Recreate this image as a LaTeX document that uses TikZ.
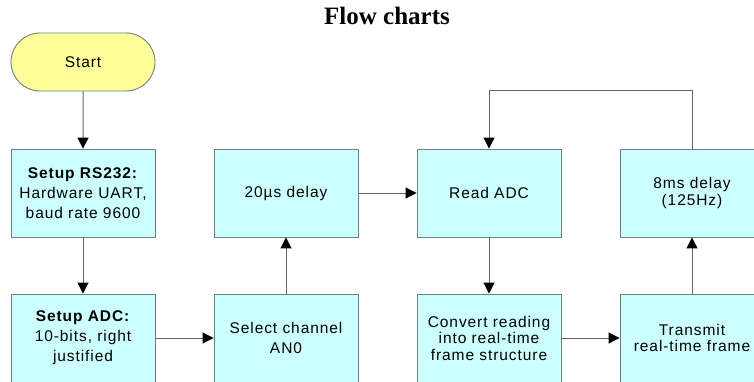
\documentclass[tikz,border=0pt]{standalone}
\usepackage{fontspec}
\setmainfont{Liberation Sans}
\newfontfamily\boxfont[LetterSpace=6]{Liberation Sans}
\newfontfamily\titlefont{Liberation Serif}
\usetikzlibrary{arrows.meta,shapes.misc}
\definecolor{boxfill}{HTML}{CCFFFF}
\definecolor{startfill}{HTML}{FFFF99}
\definecolor{boxline}{HTML}{6E7F7F}
\definecolor{conn}{HTML}{666666}
\begin{document}
\begin{tikzpicture}[x=1pt,y=-1pt,
  procbox/.style={draw=boxline,fill=boxfill,line width=0.9pt,minimum width=144pt,minimum height=88pt,inner sep=0pt,align=center,font=\boxfont\fontsize{15.5}{20}\selectfont},
  tight/.style={font=\boxfont\fontsize{15.5}{16.5}\selectfont},
  startbox/.style={draw=boxline,fill=startfill,line width=0.9pt,rounded rectangle,minimum width=144pt,minimum height=58pt,inner sep=0pt,font=\boxfont\fontsize{15.5}{20}\selectfont},
  conn/.style={draw=conn,line width=1pt,-{Triangle[length=11pt,width=11pt,color=black]}}]
\useasboundingbox (0,0) rectangle (754,381);
\clip (0,0) rectangle (754,381);
\fill[white] (0,0) rectangle (754,381);
\node[anchor=base,font=\titlefont\bfseries\fontsize{25}{29}\selectfont] (title) at (387,24) {Flow charts};
\node[startbox] (start) at (83,62) {Start};
\node[procbox] (rs) at (83,193) {\textbf{Setup RS232:}\\Hardware UART,\\baud rate 9600};
\node[procbox] (adc) at (83,338) {\textbf{Setup ADC:}\\10-bits, right\\justified};
\node[procbox] (sel) at (286,338) {Select channel\\AN0};
\node[procbox] (d20) at (286,193) {20\textmu s delay};
\node[procbox] (read) at (489,193) {Read ADC};
\node[procbox,tight] (conv) at (489,338) {Convert reading\\into real-time\\frame structure};
\node[procbox,tight] (trans) at (692,338) {Transmit\\real-time frame};
\node[procbox,tight] (d8) at (692,193) {8ms delay\\(125Hz)};
\coordinate (c1) at (692,90);
\coordinate (c2) at (489,90);
\draw[conn] (start) -- (rs);
\draw[conn] (rs) -- (adc);
\draw[conn] (adc) -- (sel);
\draw[conn] (sel) -- (d20);
\draw[conn] (d20) -- (read);
\draw[conn] (read) -- (conv);
\draw[conn] (conv) -- (trans);
\draw[conn] (trans) -- (d8);
\draw[conn] (d8.north) -- (c1) -- (c2) -- (read.north);
\end{tikzpicture}
\end{document}
